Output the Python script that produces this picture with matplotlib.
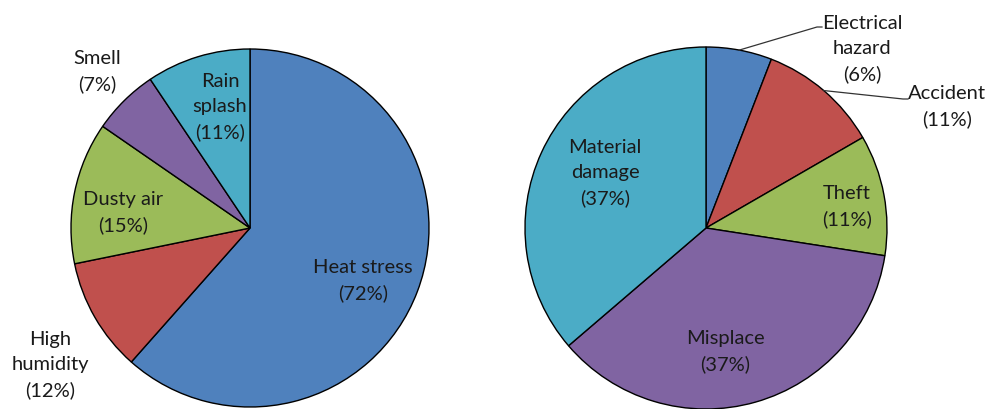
import numpy as np
import matplotlib.pyplot as plt

plt.rcParams['font.family'] = ['Lato', 'DejaVu Sans']

left_names = ['Heat stress', 'High\nhumidity', 'Dusty air', 'Smell', 'Rain\nsplash']
left_values = [72, 12, 15, 7, 11]
right_names = ['Electrical\nhazard', 'Accident', 'Theft', 'Misplace', 'Material\ndamage']
right_values = [6, 11, 11, 37, 37]
colors = ['#4F81BD', '#C0504D', '#9BBB59', '#8064A2', '#4BACC6']

W, H = 991, 410
fig = plt.figure(figsize=(W / 100, H / 100), dpi=100)
ax = fig.add_axes([0, 0, 1, 1])
ax.set_xlim(0, W)
ax.set_ylim(0, H)
ax.set_aspect('equal')
ax.axis('off')

# pie centres / radii in pixel units (y measured from top)
lc, lr = (250, 229), 179
rc, rr = (706, 229), 181

# label positions, pixels from top-left
left_pos = [(363, 281), (50, 365), (123, 213), (97, 72), (220, 107)]
right_pos = [(862, 49), (947, 107), (847, 207), (725, 352), (605, 173)]


def up(p):
    return p[0], H - p[1]


def draw(values, names, centre, radius, pos):
    wedges, _ = ax.pie(values, colors=colors, startangle=90, counterclock=False,
                       center=up(centre), radius=radius, frame=True,
                       wedgeprops=dict(edgecolor='black', linewidth=1))
    for name, v, p in zip(names, values, pos):
        ax.text(*up(p), f'{name}\n({v}%)', ha='center', va='center',
                fontsize=14.5, linespacing=1.55, color='#1a1a1a')
    return wedges


draw(left_values, left_names, lc, lr, left_pos)
wedges = draw(right_values, right_names, rc, rr, right_pos)

# leader lines for the two small outside labels on the right pie
elbows = [(817, 28), (903, 100)]
for w, el in zip(wedges[:2], elbows):
    a = np.deg2rad((w.theta1 + w.theta2) / 2)
    sx = rc[0] + rr * np.cos(a)
    sy = H - rc[1] + rr * np.sin(a)
    ex, ey = up(el)
    ax.plot([sx, ex, ex + 5], [sy, ey, ey], color='#333333', lw=0.9)

ax.set_xlim(0, W)
ax.set_ylim(0, H)
ax.axis('off')
fig.savefig('out.png', dpi=100)
